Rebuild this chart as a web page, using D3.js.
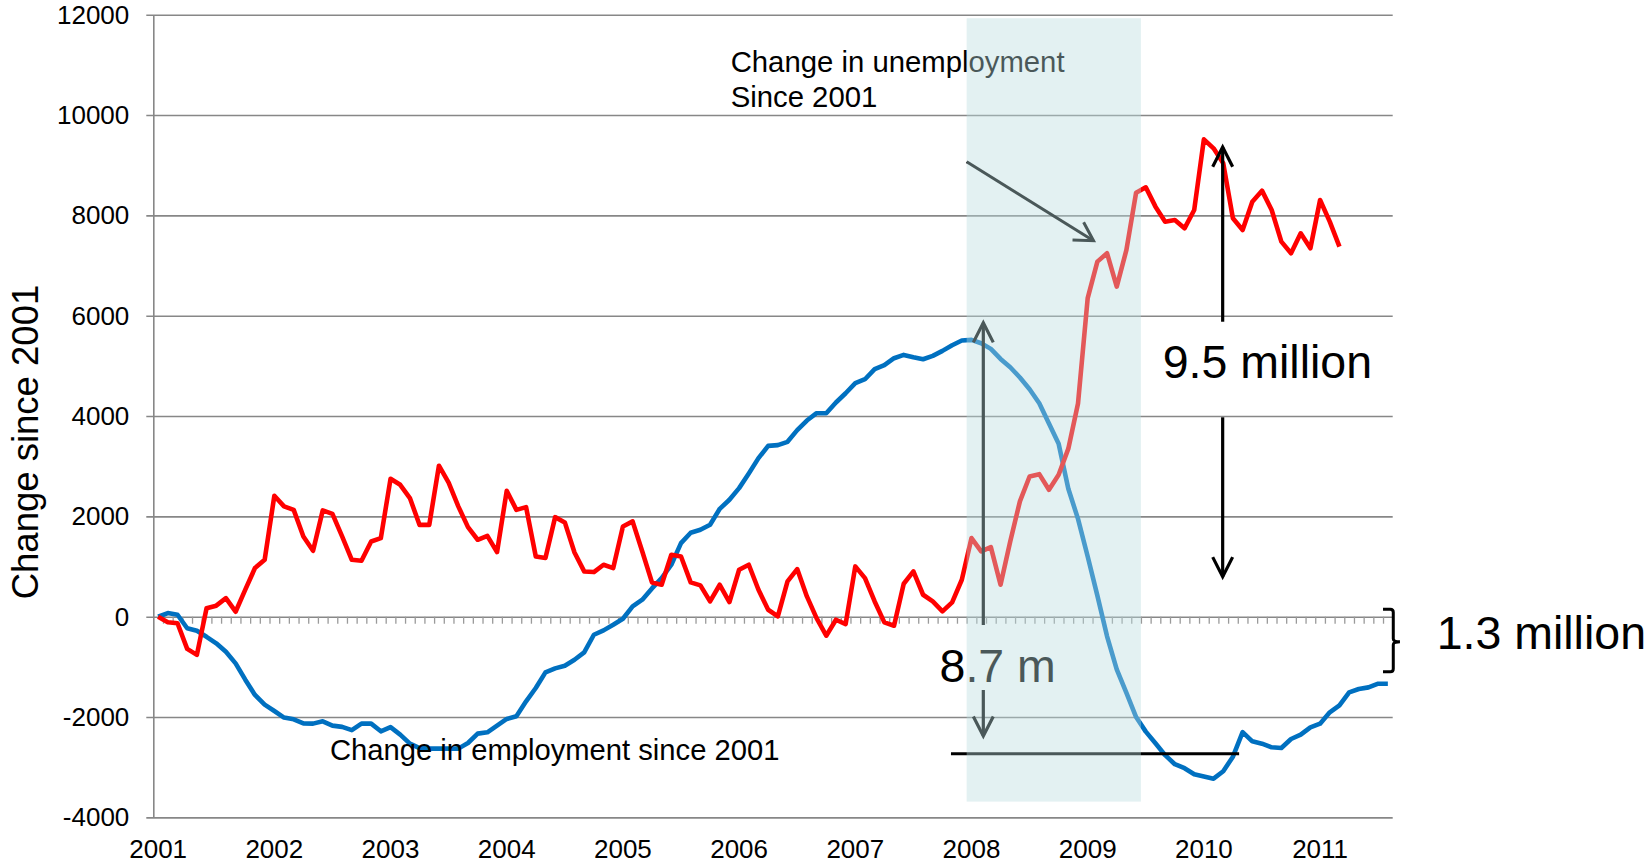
<!DOCTYPE html>
<html>
<head>
<meta charset="utf-8">
<script src="https://cdn.jsdelivr.net/npm/d3@7"></script>
<style>
  html, body { margin: 0; padding: 0; background: #fff; }
  svg { display: block; font-family: "Liberation Sans", Arial, Helvetica, sans-serif; }
</style>
</head>
<body>
<svg id="chart" width="1651" height="865"></svg>
<script>
// monthly categories, Jan 2001 .. Aug 2011
const months = d3.timeMonths(new Date(2001, 0, 1), new Date(2011, 8, 1));
const yearLabels = ['2001', '2002', '2003', '2004', '2005', '2006', '2007', '2008', '2009', '2010', '2011'];
const yTicks = [-4000, -2000, 0, 2000, 4000, 6000, 8000, 10000, 12000];

// change in unemployment since Jan 2001 (thousands), Jan 2001 .. Mar 2011
const unemployment = [
  0, -110, -130, -640, -760, 170, 220, 370, 100, 540, 970, 1135,
  2410, 2200, 2130, 1600, 1315, 2120, 2050, 1600, 1135, 1115, 1500, 1567,
  2750, 2630, 2365, 1830, 1830, 3010, 2675, 2200, 1786, 1534, 1613, 1288,
  2510, 2130, 2185, 1200, 1170, 1985, 1880, 1280, 903, 890, 1036, 970,
  1800, 1900, 1300, 684, 637, 1235, 1200, 684, 624, 305, 637, 292,
  936, 1036, 538, 139, 7, 704, 950, 405, -27, -378, -60, -146,
  1003, 770, 305, -113, -180, 657, 903, 438, 305, 106, 285, 737,
  1567, 1301, 1388, 637, 1500, 2300, 2795, 2842, 2530, 2829, 3350, 4250,
  6350, 7078, 7244, 6580, 7311, 8453, 8559, 8174, 7875, 7908, 7742, 8107,
  9515, 9336, 9037, 7941, 7709, 8273, 8493, 8107, 7477, 7244, 7643, 7344,
  8306, 7875, 7377
];

// change in employment since Jan 2001 (thousands), Jan 2001 .. Aug 2011
const employment = [
  0, 73, 40, -230, -280, -400, -530, -700, -930, -1255, -1560, -1753,
  -1880, -2010, -2045, -2125, -2131, -2085, -2171, -2195, -2260, -2131, -2131, -2284,
  -2200, -2350, -2530, -2620, -2629, -2629, -2629, -2629, -2517, -2330, -2304, -2171,
  -2038, -1985, -1687, -1421, -1110, -1030, -976, -857, -710, -359, -272, -159,
  -40, 206, 339, 564, 770, 1036, 1467, 1673, 1733, 1833, 2151, 2331,
  2563, 2855, 3161, 3406, 3420, 3486, 3720, 3911, 4057, 4057, 4270, 4455,
  4655, 4734, 4934, 5013, 5153, 5219, 5173, 5133, 5199, 5299, 5412, 5505,
  5518, 5451, 5339, 5139, 4973, 4768, 4535, 4256, 3850, 3450, 2550, 1950,
  1200, 420, -390, -1050, -1520, -2000, -2290, -2520, -2760, -2940, -3020, -3140,
  -3183, -3228, -3080, -2790, -2300, -2483, -2530, -2603, -2616, -2437, -2351, -2204,
  -2131, -1906, -1766, -1507, -1441, -1408, -1335, -1335
];

const svg = d3.select('#chart');
const plotLeft = 153.3, plotRight = 1392.7, plotTop = 14.7, plotBottom = 817.4;
const plotWidth = plotRight - plotLeft;

// scales
const x = d3.scaleBand().domain(months).range([plotLeft, plotRight]).padding(0);
const xi = d3.scaleLinear().domain([0, months.length]).range([plotLeft, plotRight]); // month-index position
const y = d3.scaleLinear().domain([-4000, 12000]).range([plotBottom, plotTop]);
const mid = i => x(months[i]) + x.bandwidth() / 2;

const gridColor = '#878787';

// y gridlines + labels
const gy = svg.append('g')
  .attr('transform', 'translate(' + plotLeft + ',0)')
  .call(d3.axisLeft(y).tickValues(yTicks).tickFormat(d => String(d))
    .tickSize(-plotWidth).tickSizeOuter(0).tickPadding(24));
gy.selectAll('.tick line').attr('x1', -7).attr('stroke', gridColor).attr('stroke-width', 1.6);
gy.select('.domain').attr('stroke', gridColor).attr('stroke-width', 1.6);
gy.selectAll('.tick text').attr('font-size', 26).attr('fill', '#000')
  .attr('font-family', '"Liberation Sans", Arial, sans-serif');

// month ticks hanging from the zero line
const gz = svg.append('g')
  .attr('transform', 'translate(0,' + y(0) + ')')
  .call(d3.axisBottom(xi).tickValues(d3.range(1, months.length + 1)).tickSize(7).tickFormat(''));
gz.select('.domain').remove();
gz.selectAll('.tick line').attr('stroke', '#9a9a9a').attr('stroke-width', 1.3);

// year labels
const jan = months.filter(d => d.getMonth() === 0);
const gx = svg.append('g')
  .attr('transform', 'translate(0,' + plotBottom + ')')
  .call(d3.axisBottom(x).tickValues(jan).tickSize(0).tickPadding(22)
    .tickFormat((d, i) => yearLabels[i]));
gx.select('.domain').remove();
gx.selectAll('.tick text').attr('font-size', 26).attr('fill', '#000')
  .attr('font-family', '"Liberation Sans", Arial, sans-serif');

// axis title
svg.append('text')
  .attr('transform', 'translate(37.5,' + ((plotTop + plotBottom) / 2 + 26) + ') rotate(-90)')
  .attr('text-anchor', 'middle')
  .attr('font-size', 36.5)
  .text('Change since 2001');

// series
const line = d3.line().x((d, i) => mid(i)).y(d => y(d));
svg.append('path').datum(employment)
  .attr('fill', 'none').attr('stroke', '#0070c0').attr('stroke-width', 4.6)
  .attr('stroke-linejoin', 'round').attr('d', line);
svg.append('path').datum(unemployment)
  .attr('fill', 'none').attr('stroke', '#ff0000').attr('stroke-width', 4.6)
  .attr('stroke-linejoin', 'round').attr('d', line);

// arrow helper: line from (x1,y1) to tip (x2,y2) with open head
function arrow(g, x1, y1, x2, y2, w, len, ang) {
  const a = Math.atan2(y1 - y2, x1 - x2);
  const p1 = [x2 + len * Math.cos(a + ang), y2 + len * Math.sin(a + ang)];
  const p2 = [x2 + len * Math.cos(a - ang), y2 + len * Math.sin(a - ang)];
  g.append('line').attr('x1', x1).attr('y1', y1).attr('x2', x2).attr('y2', y2)
    .attr('stroke', '#000').attr('stroke-width', w);
  g.append('path').attr('d', 'M' + p1 + 'L' + x2 + ',' + y2 + 'L' + p2)
    .attr('fill', 'none').attr('stroke', '#000').attr('stroke-width', w)
    .attr('stroke-linejoin', 'miter');
}

const ann = svg.append('g');

// unemployment label and arrow
ann.append('text').attr('x', xi(59.63)).attr('y', y(10851)).attr('font-size', 29.3)
  .text('Change in unemployment');
ann.append('text').attr('x', xi(59.63)).attr('y', y(10165)).attr('font-size', 29.3)
  .text('Since 2001');
arrow(ann, xi(84.0), y(9069), xi(97.1), y(7494), 3, 21, Math.PI / 6);

// employment label
ann.append('text').attr('x', xi(18.25)).attr('y', y(-2856)).attr('font-size', 29.2)
  .text('Change in employment since 2001');

// 8.7 m swing
arrow(ann, xi(85.72), y(-165), xi(85.72), y(5860), 3.2, 22, 0.47);
arrow(ann, xi(85.72), y(-1461), xi(85.72), y(-2378), 3.2, 22, 0.47);
ann.append('line').attr('x1', xi(82.38)).attr('x2', xi(112.14))
  .attr('y1', y(-2731)).attr('y2', y(-2731))
  .attr('stroke', '#000').attr('stroke-width', 3);
ann.append('text').attr('x', xi(81.2)).attr('y', y(-1296)).attr('font-size', 46.5)
  .text('8.7 m');

// recession shading, laid over the marks
svg.append('rect')
  .attr('x', xi(84)).attr('width', xi(102) - xi(84))
  .attr('y', y(11930)).attr('height', y(-3685) - y(11930))
  .attr('fill', '#b8dcdf').attr('fill-opacity', 0.4);

// 9.5 million rise
const ann2 = svg.append('g');
arrow(ann2, xi(110.44), y(5880), xi(110.44), y(9360), 3.2, 22, 0.47);
arrow(ann2, xi(110.44), y(3975), xi(110.44), y(797), 3.2, 22, 0.47);
ann2.append('text').attr('x', xi(104.25)).attr('y', y(4752)).attr('font-size', 46.5)
  .text('9.5 million');

// 1.3 million brace
const bx0 = xi(127.0), bx1 = xi(128.06), bxn = xi(128.75);
const by0 = y(147), by1 = y(-1096), byn = y(-498);
ann2.append('path')
  .attr('d', 'M' + bx0 + ',' + by0 + 'L' + (bx1 - 3) + ',' + by0 +
    'Q' + bx1 + ',' + by0 + ' ' + bx1 + ',' + (by0 + 3) +
    'L' + bx1 + ',' + (byn - 3) + 'Q' + bx1 + ',' + byn + ' ' + bxn + ',' + byn +
    'Q' + bx1 + ',' + byn + ' ' + bx1 + ',' + (byn + 3) +
    'L' + bx1 + ',' + (by1 - 3) + 'Q' + bx1 + ',' + by1 + ' ' + (bx1 - 3) + ',' + by1 +
    'L' + bx0 + ',' + by1)
  .attr('fill', 'none').attr('stroke', '#000').attr('stroke-width', 3);
ann2.append('text').attr('x', xi(132.54)).attr('y', y(-650)).attr('font-size', 46.5)
  .text('1.3 million');
</script>
</body>
</html>
